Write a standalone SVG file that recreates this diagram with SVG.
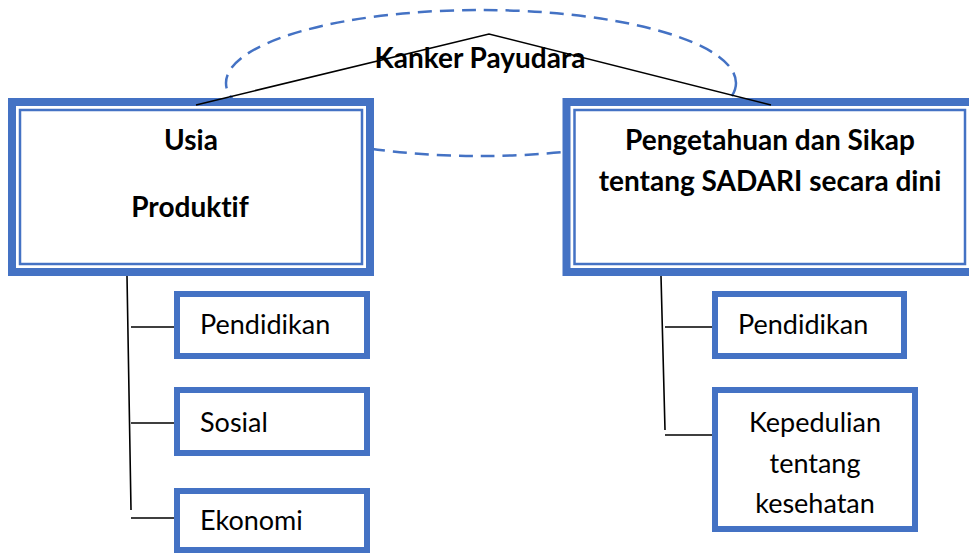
<svg xmlns="http://www.w3.org/2000/svg" width="969" height="554" viewBox="0 0 969 554">
<style>
.outer{fill:#fff;stroke:#4472C4;stroke-width:8}
.inner{fill:none;stroke:#4472C4;stroke-width:2.5}
.small{fill:#fff;stroke:#4472C4;stroke-width:6}
.ln{fill:none;stroke:#000;stroke-width:1.6}
.dash{fill:none;stroke:#4472C4;stroke-width:2.5;stroke-dasharray:14 8}
text{font-variant-ligatures:none}
.b{font-family:Lato,"Liberation Sans",sans-serif;font-weight:bold;font-size:28px;fill:#000}
.r{font-family:Lato,"Liberation Sans",sans-serif;font-size:27px;fill:#000}
</style>
<rect width="969" height="554" fill="#fff"/>
<g id="ellipse">
<ellipse class="dash" cx="481" cy="83" rx="255" ry="73"/>
</g>
<g id="usia">
<rect class="outer" x="12" y="102" width="358" height="170"/>
<rect class="inner" x="20" y="110" width="342" height="154"/>
<text class="b" x="191" y="150" text-anchor="middle">Usia</text>
<text class="b" x="190" y="217" text-anchor="middle">Produktif</text>
</g>
<g id="pengetahuan">
<rect class="outer" x="566.5" y="102" width="412" height="170"/>
<rect class="inner" x="574.5" y="110" width="390.5" height="154"/>
<text class="b" x="770" y="150" text-anchor="middle">Pengetahuan dan Sikap</text>
<text class="b" x="770" y="191" text-anchor="middle">tentang SADARI secara dini</text>
</g>
<g id="pendidikan1">
<rect class="small" x="177" y="294" width="190" height="62"/>
<text class="r" x="200" y="334">Pendidikan</text>
</g>
<g id="sosial">
<rect class="small" x="177" y="390" width="190" height="63"/>
<text class="r" x="200" y="432">Sosial</text>
</g>
<g id="ekonomi">
<rect class="small" x="177" y="491" width="190" height="59"/>
<text class="r" x="200" y="530">Ekonomi</text>
</g>
<g id="pendidikan2">
<rect class="small" x="715" y="294" width="189" height="62"/>
<text class="r" x="738" y="334">Pendidikan</text>
</g>
<g id="kepedulian">
<rect class="small" x="715" y="390" width="200" height="139"/>
<text class="r" x="815" y="432" text-anchor="middle">Kepedulian</text>
<text class="r" x="815" y="473" text-anchor="middle">tentang</text>
<text class="r" x="815" y="513" text-anchor="middle">kesehatan</text>
</g>
<g id="connectors">
<polyline class="ln" points="196,105 489,34 771,105"/>
<path class="ln" d="M127,276 L131,510 M131,327 H174 M131,423 H174 M131,518 H174"/>
<path class="ln" d="M661,276 L665,430 M665,327 H712 M665,435 H712"/>
</g>
<g id="kanker">
<text class="b" x="480" y="68" text-anchor="middle">Kanker Payudara</text>
</g>
</svg>
